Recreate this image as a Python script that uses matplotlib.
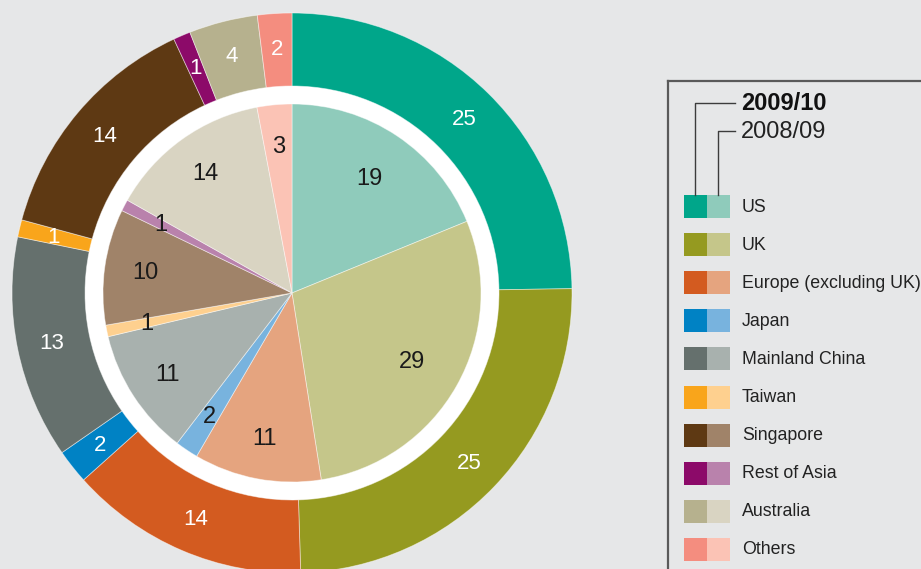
import matplotlib.pyplot as plt
import numpy as np
from matplotlib.patches import Circle, Rectangle

plt.rcParams['font.family'] = ['Liberation Sans', 'DejaVu Sans']

# regions, clockwise from 12 o'clock
regions = ["US", "UK", "Europe (excluding UK)", "Japan", "Mainland China",
           "Taiwan", "Singapore", "Rest of Asia", "Australia", "Others"]
share_2010 = [25, 25, 14, 2, 13, 1, 14, 1, 4, 2]
share_2009 = [19, 29, 11, 2, 11, 1, 10, 1, 14, 3]

dark = ["#00a68a", "#959a20", "#d35b20", "#0082c4", "#65706d",
        "#f9a51b", "#5e3913", "#8c0a69", "#b6b18e", "#f48d7f"]
light = ["#8fcbbb", "#c5c68a", "#e5a47f", "#78b3de", "#a8b1ae",
         "#fed08f", "#a08369", "#b982ac", "#d9d4c2", "#fbc3b5"]

bg = "#e6e7e8"
W, H = 921, 569
cx, cy = 292, 293          # pie centre in pixels
r_out, r_ring, r_in = 280, 207, 189

fig = plt.figure(figsize=(W / 100, H / 100), dpi=100, facecolor=bg)
ax = fig.add_axes([0, 0, 1, 1])
ax.set_facecolor(bg)

edge = dict(edgecolor=(1, 1, 1, 0.5), linewidth=0.6)

# outer ring: 2009/10
wedges, _ = ax.pie(share_2010, colors=dark, radius=r_out, startangle=90,
                   counterclock=False,
                   wedgeprops=dict(width=r_out - r_ring, **edge))
for w, v in zip(wedges, share_2010):
    a = np.deg2rad((w.theta1 + w.theta2) / 2)
    r = 245
    ax.text(r * np.cos(a), r * np.sin(a) - 1, str(v), color="white",
            fontsize=16, ha="center", va="center")

# white gap between ring and inner pie
ax.add_patch(Circle((0, 0), r_ring, color="white", zorder=0.5))

# inner pie: 2008/09
wedges, _ = ax.pie(share_2009, colors=light, radius=r_in, startangle=90,
                   counterclock=False, wedgeprops=edge)
for w, v in zip(wedges, share_2009):
    a = np.deg2rad((w.theta1 + w.theta2) / 2)
    r = 148 if v < 15 else 138
    ax.text(r * np.cos(a), r * np.sin(a) - 1, str(v), color="#1a1a1a",
            fontsize=17, ha="center", va="center")

ax.set_xlim(-cx, W - cx)
ax.set_ylim(-(H - cy), cy)
ax.set_aspect("equal")
ax.axis("off")


def px(x, y):
    """pixel position -> data coords"""
    return x - cx, cy - y


# legend frame (open to the right and bottom)
frame = "#5a5a5a"
ax.plot(*zip(px(668, 81), px(921, 81)), color=frame, lw=1.6, clip_on=False)
ax.plot(*zip(px(668, 81), px(668, 569)), color=frame, lw=1.6, clip_on=False)

# year headings with connector lines
line = "#3c3c3c"
ax.plot(*zip(px(695, 195), px(695, 103), px(735, 103)), color=line, lw=1)
ax.plot(*zip(px(718, 195), px(718, 131), px(735, 131)), color=line, lw=1)
ax.text(*px(741, 104), "2009/10", fontsize=17, fontweight="bold",
        color="#111111", ha="left", va="center")
ax.text(*px(741, 132), "2008/09", fontsize=17, color="#222222",
        ha="left", va="center")

for i, (name, c1, c2) in enumerate(zip(regions, dark, light)):
    top = 195 + i * 38.1
    x0, y0 = px(684, top + 23)
    ax.add_patch(Rectangle((x0, y0), 23, 23, color=c1, lw=0))
    ax.add_patch(Rectangle((x0 + 23, y0), 23, 23, color=c2, lw=0))
    ax.text(*px(742, top + 12), name, fontsize=12.8, color="#222222",
            ha="left", va="center")

fig.savefig("out.png", dpi=100, facecolor=bg)
